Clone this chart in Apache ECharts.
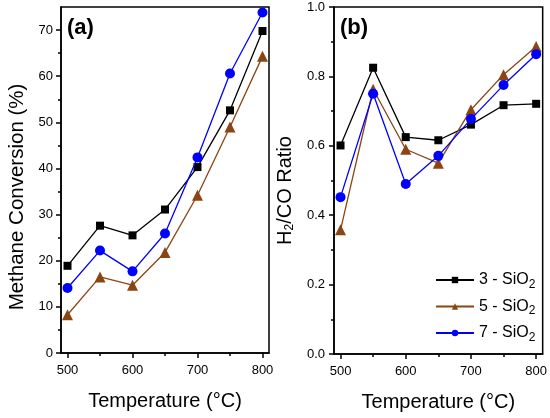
<!DOCTYPE html>
<html><head><meta charset="utf-8">
<script src="https://cdn.jsdelivr.net/npm/echarts@6/dist/echarts.min.js"></script>
<style>html,body{margin:0;padding:0;background:#fff}#c{width:550px;height:418px}</style>
</head><body><div id="c"></div>
<script>
const temps = [500, 550, 600, 650, 700, 750, 800];
const seriesNames = ['3 - SiO2', '5 - SiO2', '7 - SiO2'];
const conv3 = [18.9, 27.6, 25.5, 31.1, 40.3, 52.6, 69.8];
const conv5 = [8.3, 16.5, 14.7, 21.8, 34.2, 49.0, 64.3];
const conv7 = [14.1, 22.2, 17.7, 25.9, 42.4, 60.6, 73.8];
const ratio3 = [0.601, 0.825, 0.625, 0.616, 0.661, 0.717, 0.721];
const ratio5 = [0.358, 0.763, 0.590, 0.550, 0.704, 0.805, 0.886];
const ratio7 = [0.452, 0.750, 0.490, 0.571, 0.677, 0.775, 0.864];
const xMajor = [500, 600, 700, 800];
const xMinor = [550, 650, 750];
const yMajorA = [0, 10, 20, 30, 40, 50, 60, 70];
const yMinorA = [5, 15, 25, 35, 45, 55, 65];
const yMajorB = [0, 0.2, 0.4, 0.6, 0.8, 1.0];
const yMinorB = [0.1, 0.3, 0.5, 0.7, 0.9];

const FONT = '"Liberation Sans", Arial, sans-serif';
const colors = ['#000000', '#8B4513', '#0000FF'];
const symbols = ['rect', 'triangle', 'circle'];
const symSizes = [8, 11, 10];

const chart = echarts.init(document.getElementById('c'));
const pair = (xs, ys) => xs.map((x, i) => [x, ys[i]]);

const tickStyle = { color: '#000', width: 1.5 };
const gA = { left: 61, top: 7, width: 208, height: 346 };
const gB = { left: 334, top: 7, width: 209, height: 347 };

function xMain(gi) {
  return {
    gridIndex: gi, type: 'value', position: 'bottom', min: 490, max: 810,
    name: 'Temperature (°C)', nameLocation: 'middle', nameGap: 38,
    nameTextStyle: { fontFamily: FONT, fontSize: 20, color: '#000' },
    axisLine: { lineStyle: { color: '#000', width: 1.5 } },
    axisTick: { length: 5, lineStyle: tickStyle, customValues: xMajor },
    axisLabel: { customValues: xMajor, margin: 11, fontFamily: FONT, fontSize: 13, color: '#000' },
    splitLine: { show: false }
  };
}
function xMinorAxis(gi) {
  return {
    gridIndex: gi, type: 'value', position: 'bottom', min: 490, max: 810,
    axisLine: { show: false },
    axisTick: { show: true, length: 3, lineStyle: tickStyle, customValues: xMinor },
    axisLabel: { show: false, customValues: xMinor },
    splitLine: { show: false }
  };
}
function yMinorAxis(gi, max, vals) {
  return {
    gridIndex: gi, type: 'value', position: 'left', min: 0, max: max,
    axisLine: { show: false },
    axisTick: { show: true, length: 3, lineStyle: tickStyle, customValues: vals },
    axisLabel: { show: false, customValues: vals },
    splitLine: { show: false }
  };
}

const subRich = { sub: { fontFamily: FONT, fontSize: 12, padding: [9, 0, 0, 0], color: '#000' } };

const mk = (name, idx, data, xi, yi) => ({
  name, type: 'line', xAxisIndex: xi, yAxisIndex: yi, data,
  symbol: symbols[idx], symbolSize: symSizes[idx],
  lineStyle: { color: colors[idx], width: 1.3 },
  itemStyle: { color: colors[idx] },
  z: 3 + idx
});

chart.setOption({
  animation: false,
  backgroundColor: '#fff',
  grid: [
    Object.assign({ show: true, borderColor: '#000', borderWidth: 1.5, backgroundColor: 'transparent' }, gA),
    Object.assign({ show: true, borderColor: '#000', borderWidth: 1.5, backgroundColor: 'transparent' }, gB),
    Object.assign({ show: false }, gA),
    Object.assign({ show: false }, gB)
  ],
  xAxis: [xMain(0), xMain(1), xMinorAxis(2), xMinorAxis(3)],
  yAxis: [{
    gridIndex: 0, type: 'value', position: 'left', min: 0, max: 75,
    name: 'Methane Conversion (%)', nameLocation: 'middle', nameGap: 33,
    nameTextStyle: { fontFamily: FONT, fontSize: 20.5, color: '#000', padding: [0, 34, 0, 0] },
    axisLine: { show: true, lineStyle: { color: '#000', width: 1.5 } },
    axisTick: { show: true, length: 5, lineStyle: tickStyle, customValues: yMajorA },
    axisLabel: { customValues: yMajorA, margin: 8, fontFamily: FONT, fontSize: 13, color: '#000' },
    splitLine: { show: false }
  }, {
    gridIndex: 1, type: 'value', position: 'left', min: 0, max: 1,
    name: 'H{sub|2}/CO Ratio', nameLocation: 'middle', nameGap: 38,
    nameTextStyle: { fontFamily: FONT, fontSize: 20, color: '#000', padding: [0, 20, 0, 0], rich: subRich },
    axisLine: { show: true, lineStyle: { color: '#000', width: 1.5 } },
    axisTick: { show: true, length: 5, lineStyle: tickStyle, customValues: yMajorB },
    axisLabel: { customValues: yMajorB, margin: 9, fontFamily: FONT, fontSize: 13, color: '#000', formatter: v => v.toFixed(1) },
    splitLine: { show: false }
  },
  yMinorAxis(2, 75, yMinorA),
  yMinorAxis(3, 1, yMinorB)],
  legend: {
    orient: 'vertical', left: 430, top: 267, itemWidth: 38, itemHeight: 8, itemGap: 8,
    data: seriesNames,
    formatter: n => n.replace(/2$/, '{sub|2}'),
    textStyle: { fontFamily: FONT, fontSize: 16, color: '#000', rich: subRich },
    inactiveColor: '#000'
  },
  graphic: [
    { type: 'text', left: 67, top: 17, style: { text: '(a)', font: 'bold 22px ' + FONT, fill: '#000' } },
    { type: 'text', left: 340, top: 17, style: { text: '(b)', font: 'bold 22px ' + FONT, fill: '#000' } }
  ],
  series: [
    mk(seriesNames[0], 0, pair(temps, conv3), 0, 0),
    mk(seriesNames[1], 1, pair(temps, conv5), 0, 0),
    mk(seriesNames[2], 2, pair(temps, conv7), 0, 0),
    mk(seriesNames[0], 0, pair(temps, ratio3), 1, 1),
    mk(seriesNames[1], 1, pair(temps, ratio5), 1, 1),
    mk(seriesNames[2], 2, pair(temps, ratio7), 1, 1)
  ]
});
</script></body></html>
